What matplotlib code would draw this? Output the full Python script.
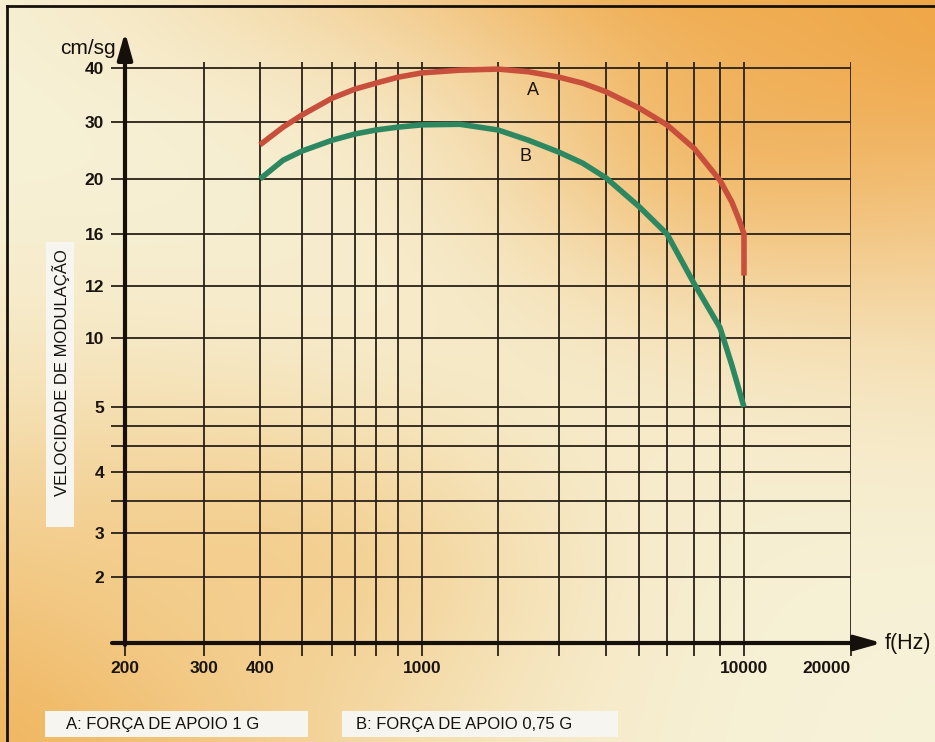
import numpy as np
import matplotlib
matplotlib.use('Agg')
import matplotlib.pyplot as plt
from matplotlib.lines import Line2D
from matplotlib.patches import Rectangle

plt.rcParams['font.family'] = ['Liberation Sans', 'DejaVu Sans']

# curves: frequency (Hz) -> modulation velocity (cm/sg)
freq_a = [400, 455, 500, 600, 700, 800, 900, 1000, 1500, 2000, 2500, 3000,
          3500, 4000, 5000, 6000, 7000, 8000, 9000, 9600, 10000, 10000]
vel_a = [26.0, 29.1, 31.3, 34.4, 36.1, 37.2, 38.3, 39.1, 39.6, 39.8, 39.3, 38.3,
         37.2, 35.6, 32.6, 29.5, 25.4, 19.9, 18.3, 17.0, 16.0, 12.8]

freq_b = [400, 455, 500, 600, 700, 800, 900, 1000, 1500, 2000, 2500, 3000,
          3500, 4000, 5000, 6000, 7000, 8000, 9000, 10000]
vel_b = [20.0, 23.3, 24.9, 26.8, 27.9, 28.6, 29.1, 29.5, 29.6, 28.6, 26.8, 24.7,
         22.8, 20.2, 18.0, 16.0, 12.2, 10.4, 8.0, 5.0]

# grid values and their labels
x_grid = [200, 300, 400, 500, 600, 700, 800, 900, 1000, 2000, 3000, 4000,
          5000, 6000, 7000, 8000, 10000, 20000]
x_labels = ['200', '300', '400', '', '', '', '', '', '1000', '', '', '',
            '', '', '', '', '10000', '20000']
y_grid = [2, 3, 3.5, 4, 4.33, 4.67, 5, 10, 12, 16, 20, 30, 40]
y_labels = ['2', '3', '', '4', '', '', '5', '10', '12', '16', '20', '30', '40']

label_a = 'A: FORÇA DE APOIO 1 G'
label_b = 'B: FORÇA DE APOIO 0,75 G'

# the printed chart uses hand drawn, uneven axes: piecewise scale knots
X_KNOT_HZ = np.array(x_grid, float)
X_KNOT_PX = np.array([125, 204, 260, 302, 332, 355, 376, 398, 422, 498, 559,
                      606, 639, 667, 694, 720, 744, 851], float)
Y_KNOT_V = np.array([0, 2, 3, 3.5, 4, 4.33, 4.67, 5, 10, 12, 16, 20, 30, 40, 45], float)
Y_KNOT_PX = 643 - np.array([643, 577, 533, 501, 472, 446, 426, 407, 338, 286,
                            234, 179, 122, 68, 41], float)


def xf(v):
    return np.interp(v, X_KNOT_HZ, X_KNOT_PX)


def xi(p):
    return np.interp(p, X_KNOT_PX, X_KNOT_HZ)


def yf(v):
    return np.interp(v, Y_KNOT_V, Y_KNOT_PX)


def yi(p):
    return np.interp(p, Y_KNOT_PX, Y_KNOT_V)


W, H = 935, 742
fig = plt.figure(figsize=(W / 100, H / 100), dpi=100)


def fx(px):
    return px / W


def fy(py):
    return 1 - py / H


# background: cream paper with orange washes
bg = fig.add_axes([0, 0, 1, 1], zorder=-5)
yy, xx = np.mgrid[0:H, 0:W]


def blob(cx, cy, sx, sy):
    return np.exp(-(((xx - cx) / sx) ** 2 + ((yy - cy) / sy) ** 2))


img = np.ones((H, W, 3)) * np.array([247, 243, 218]) / 255
layers = [
    ((244, 216, 165), blob(430, -30, 320, 110) * 0.85),
    ((242, 190, 110), blob(720, 130, 190, 140) * 0.7),
    ((239, 163, 66), blob(990, -40, 440, 330)),
    ((240, 170, 75), blob(720, -30, 230, 90) * 0.8),
    ((240, 182, 95), blob(-40, 770, 430, 330)),
    ((243, 203, 135), blob(280, 560, 250, 140) * 0.75),
]
for col, w in layers:
    w = np.clip(w, 0, 1)[..., None]
    img = img * (1 - w) + np.array(col) / 255 * w
bg.imshow(img, extent=[0, W, H, 0], aspect='auto')
bg.set_xlim(0, W)
bg.set_ylim(H, 0)
bg.axis('off')

ax = fig.add_axes([fx(125), fy(643), (851 - 125) / W, (643 - 62) / H])
ax.set_facecolor('none')
ax.set_xscale('function', functions=(xf, xi))
ax.set_yscale('function', functions=(yf, yi))
ax.set_xlim(200, 20000)
ax.set_ylim(0, float(yi(643 - 62)))

grid_col = '#2a2118'
for v in x_grid:
    ax.axvline(v, color=grid_col, lw=1.3, zorder=1)
for v in y_grid:
    ax.axhline(v, color=grid_col, lw=1.3, zorder=1)

ax.plot(freq_a, vel_a, color='#c84f3b', lw=4.0, solid_capstyle='butt',
        solid_joinstyle='round', zorder=3)
ax.plot(freq_b, vel_b, color='#2d8862', lw=4.0, solid_capstyle='butt',
        solid_joinstyle='round', zorder=3)
ax.text(2574, 35.9, 'A', fontsize=13, ha='center', va='center', color='#1a1410')
ax.text(2443, 23.9, 'B', fontsize=13, ha='center', va='center', color='#1a1410')

ax.set_xticks(x_grid)
ax.set_xticklabels(x_labels, fontsize=12.5, fontweight='bold')
ax.set_yticks(y_grid)
ax.set_yticklabels(y_labels, fontsize=12.5, fontweight='bold')
ax.xaxis.set_minor_locator(plt.NullLocator())
ax.yaxis.set_minor_locator(plt.NullLocator())
ax.tick_params(axis='x', direction='out', length=9, width=1.3, color=grid_col,
               pad=4, labelcolor='#1a1410')
ax.tick_params(axis='y', direction='out', length=10, width=1.3, color=grid_col,
               pad=5, labelcolor='#1a1410')
ax.get_xticklabels()[-1].set_horizontalalignment('right')
for s in ax.spines.values():
    s.set_visible(False)

# axes with arrows
arrow = dict(arrowstyle='-|>,head_length=1.6,head_width=0.45', color='#15100c',
             lw=3, shrinkA=0, shrinkB=0)
fig.add_artist(plt.Annotation('', xy=(fx(125), fy(32)), xytext=(fx(125), fy(645)),
                              xycoords='figure fraction', arrowprops=arrow))
fig.add_artist(plt.Annotation('', xy=(fx(882), fy(643)), xytext=(fx(112), fy(643)),
                              xycoords='figure fraction', arrowprops=arrow))
fig.text(fx(116), fy(48), 'cm/sg', fontsize=15, ha='right', va='center', color='#15100c')
fig.text(fx(885), fy(643), 'f(Hz)', fontsize=15.5, ha='left', va='center', color='#15100c')

# y label in a white strip
fig.add_artist(Rectangle((fx(46), fy(527)), (74 - 46) / W, (527 - 242) / H,
                         transform=fig.transFigure, facecolor='#f6f5ef', edgecolor='none'))
fig.text(fx(61), fy(373), 'VELOCIDADE DE MODULAÇÃO', rotation=90, fontsize=12,
         ha='center', va='center', color='#15100c')

# legend strips
fig.add_artist(Rectangle((fx(45), fy(737)), (308 - 45) / W, (737 - 711) / H,
                         transform=fig.transFigure, facecolor='#f6f5ef', edgecolor='none'))
fig.add_artist(Rectangle((fx(342), fy(737)), (618 - 342) / W, (737 - 711) / H,
                         transform=fig.transFigure, facecolor='#f6f5ef', edgecolor='none'))
fig.text(fx(66), fy(724), label_a, fontsize=12, ha='left', va='center', color='#15100c')
fig.text(fx(356), fy(724), label_b, fontsize=12, ha='left', va='center', color='#15100c')

# page frame
fig.add_artist(Line2D([fx(7), fx(7)], [0, fy(6)], color='#15100c', lw=2))
fig.add_artist(Line2D([fx(7), 1], [fy(6), fy(6)], color='#15100c', lw=2))

fig.savefig('out.png', dpi=100)
